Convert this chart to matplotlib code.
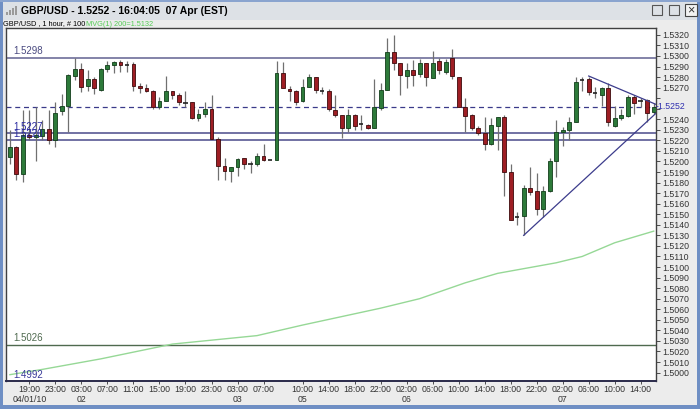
import matplotlib
matplotlib.use("Agg")
import matplotlib.pyplot as plt
import matplotlib.transforms as mtransforms
from matplotlib.patches import Rectangle
import numpy as np

plt.rcParams['font.family'] = ['Liberation Sans', 'DejaVu Sans']

# hourly GBP/USD candles, 100 bars
opens = [1.5204, 1.5214, 1.5188, 1.5225, 1.5223, 1.5224, 1.5231, 1.5220, 1.5248, 1.5253,
         1.5281, 1.5288, 1.5272, 1.5278, 1.5268, 1.5288, 1.5291, 1.5294, 1.5291, 1.5292,
         1.5272, 1.5270, 1.5267, 1.5252, 1.5257, 1.5267, 1.5263, 1.5255, 1.5256, 1.5241,
         1.5245, 1.5250, 1.5221, 1.5196, 1.5191, 1.5195, 1.5203, 1.5198, 1.5198, 1.5205,
         1.5201, 1.5201, 1.5284, 1.5269, 1.5267, 1.5257, 1.5271, 1.5280, 1.5267, 1.5267,
         1.5249, 1.5244, 1.5232, 1.5244, 1.5236, 1.5235, 1.5232, 1.5251, 1.5268, 1.5304,
         1.5293, 1.5281, 1.5287, 1.5283, 1.5293, 1.5279, 1.5295, 1.5285, 1.5298, 1.5280,
         1.5252, 1.5244, 1.5232, 1.5227, 1.5217, 1.5234, 1.5242, 1.5190, 1.5147, 1.5148,
         1.5175, 1.5172, 1.5155, 1.5172, 1.5200, 1.5228, 1.5230, 1.5237, 1.5277, 1.5278,
         1.5265, 1.5263, 1.5270, 1.5234, 1.5241, 1.5243, 1.5261, 1.5257, 1.5258, 1.5247]
highs = [1.5230, 1.5215, 1.5249, 1.5249, 1.5252, 1.5239, 1.5249, 1.5256, 1.5264, 1.5283,
         1.5298, 1.5293, 1.5287, 1.5280, 1.5289, 1.5295, 1.5295, 1.5296, 1.5295, 1.5294,
         1.5274, 1.5273, 1.5268, 1.5261, 1.5281, 1.5267, 1.5265, 1.5267, 1.5256, 1.5250,
         1.5256, 1.5263, 1.5223, 1.5203, 1.5195, 1.5203, 1.5203, 1.5200, 1.5208, 1.5217,
         1.5201, 1.5295, 1.5294, 1.5272, 1.5268, 1.5278, 1.5283, 1.5280, 1.5271, 1.5269,
         1.5263, 1.5244, 1.5250, 1.5245, 1.5244, 1.5236, 1.5278, 1.5274, 1.5317, 1.5320,
         1.5293, 1.5293, 1.5296, 1.5297, 1.5293, 1.5305, 1.5298, 1.5297, 1.5307, 1.5280,
         1.5260, 1.5245, 1.5234, 1.5242, 1.5241, 1.5242, 1.5244, 1.5198, 1.5152, 1.5178,
         1.5195, 1.5189, 1.5177, 1.5203, 1.5239, 1.5233, 1.5242, 1.5280, 1.5280, 1.5280,
         1.5271, 1.5271, 1.5274, 1.5253, 1.5250, 1.5263, 1.5263, 1.5260, 1.5259, 1.5255]
lows = [1.5198, 1.5182, 1.5181, 1.5220, 1.5200, 1.5220, 1.5217, 1.5214, 1.5244, 1.5228,
        1.5277, 1.5266, 1.5267, 1.5264, 1.5267, 1.5285, 1.5284, 1.5285, 1.5285, 1.5267,
        1.5265, 1.5266, 1.5250, 1.5250, 1.5257, 1.5259, 1.5254, 1.5252, 1.5240, 1.5238,
        1.5242, 1.5221, 1.5182, 1.5182, 1.5181, 1.5186, 1.5193, 1.5189, 1.5196, 1.5200,
        1.5201, 1.5201, 1.5270, 1.5257, 1.5254, 1.5256, 1.5271, 1.5265, 1.5264, 1.5248,
        1.5242, 1.5222, 1.5228, 1.5230, 1.5230, 1.5231, 1.5232, 1.5249, 1.5268, 1.5287,
        1.5263, 1.5270, 1.5272, 1.5280, 1.5272, 1.5279, 1.5283, 1.5283, 1.5278, 1.5252,
        1.5228, 1.5230, 1.5225, 1.5211, 1.5216, 1.5211, 1.5167, 1.5145, 1.5140, 1.5130,
        1.5168, 1.5149, 1.5147, 1.5171, 1.5185, 1.5215, 1.5220, 1.5237, 1.5267, 1.5263,
        1.5260, 1.5253, 1.5234, 1.5233, 1.5239, 1.5242, 1.5245, 1.5252, 1.5237, 1.5245]
closes = [1.5214, 1.5188, 1.5225, 1.5223, 1.5225, 1.5231, 1.5220, 1.5246, 1.5253, 1.5282,
          1.5288, 1.5271, 1.5278, 1.5270, 1.5288, 1.5291, 1.5294, 1.5291, 1.5291, 1.5272,
          1.5270, 1.5267, 1.5252, 1.5257, 1.5267, 1.5263, 1.5256, 1.5255, 1.5241, 1.5245,
          1.5250, 1.5221, 1.5196, 1.5191, 1.5195, 1.5202, 1.5198, 1.5198, 1.5205, 1.5201,
          1.5201, 1.5284, 1.5270, 1.5267, 1.5256, 1.5271, 1.5280, 1.5268, 1.5267, 1.5250,
          1.5244, 1.5232, 1.5244, 1.5234, 1.5236, 1.5232, 1.5252, 1.5268, 1.5304, 1.5293,
          1.5282, 1.5287, 1.5282, 1.5293, 1.5280, 1.5293, 1.5287, 1.5294, 1.5281, 1.5252,
          1.5243, 1.5232, 1.5227, 1.5217, 1.5235, 1.5242, 1.5190, 1.5145, 1.5147, 1.5175,
          1.5171, 1.5155, 1.5172, 1.5200, 1.5228, 1.5230, 1.5237, 1.5275, 1.5277, 1.5266,
          1.5265, 1.5270, 1.5237, 1.5241, 1.5244, 1.5261, 1.5255, 1.5257, 1.5246, 1.5252]

# 200 period moving average, read at some bars
ma_idx = [0, 5, 14, 25, 38, 45, 57, 63, 70, 75, 84, 88, 93, 99]
ma_val = [1.4998, 1.5003, 1.5013, 1.5027, 1.5035, 1.5045, 1.5061, 1.5070, 1.5085,
          1.5094, 1.5104, 1.5110, 1.5123, 1.5134]

# horizontal levels
level_top = 1.5298
level_mid = 1.5252
level_a = 1.5227
level_b = 1.5220
level_low = 1.5026
level_bottom = 1.4992

# trend lines
trend_up_x = [79, 99.4]
trend_up_y = [1.5130, 1.5246]
trend_dn_x = [89, 99.4]
trend_dn_y = [1.5281, 1.5254]

tick_pos = [3, 7, 11, 15, 19, 23, 27, 31, 35, 39, 45, 49, 53, 57, 61, 65, 69, 73, 77, 81, 85, 89, 93, 97]
tick_txt = ["19:00\n04/01/10", "23:00", "03:00\n02", "07:00", "11:00", "15:00", "19:00", "23:00",
            "03:00\n03", "07:00", "10:00\n05", "14:00", "18:00", "22:00", "02:00\n06", "06:00",
            "10:00", "14:00", "18:00", "22:00", "02:00\n07", "06:00", "10:00", "14:00"]

W, H = 700, 409
fig = plt.figure(figsize=(7, 4.09), dpi=100)
fig.patch.set_facecolor('#ececec')

def box(x, y, w, h, **kw):
    # pixel coords from top-left
    r = Rectangle((x / W, 1 - (y + h) / H), w / W, h / H, transform=fig.transFigure, **kw)
    fig.add_artist(r)

# window chrome
box(0, 0, W, 20, facecolor='#dde1e6', edgecolor='none')
box(0, 0, 3, H, facecolor='#6f8fc4', edgecolor='none')
box(W - 3, 0, 3, H, facecolor='#6f8fc4', edgecolor='none')
box(0, H - 4, W, 4, facecolor='#6f8fc4', edgecolor='none')
box(0, 0, W, 1.5, facecolor='#8aa4cf', edgecolor='none')
box(652, 5, 10, 10, facecolor='none', edgecolor='#555555', linewidth=0.8)
box(669, 5, 10, 10, facecolor='none', edgecolor='#555555', linewidth=0.8)
box(685, 4, 12, 12, facecolor='#f2f2f2', edgecolor='#444444', linewidth=0.8)
fig.text(691 / W, 1 - 10.5 / H, "×", fontsize=9, ha='center', va='center', color='#333333')
for k, hh in enumerate([3, 5, 7, 9]):
    box(6 + k * 3, 15 - hh, 2, hh, facecolor='#9a9a9a', edgecolor='none')

fig.text(21 / W, 1 - 10.5 / H, "GBP/USD - 1.5252 - 16:04:05  07 Apr (EST)",
         fontsize=7.5, fontweight='bold', va='center', ha='left', color='black')
fig.text(3 / W, 1 - 24 / H, "GBP/USD , 1 hour, # 100", fontsize=5.3, va='center', color='black')
fig.text(86 / W, 1 - 24 / H, "MVG(1) 200=1.5132", fontsize=5.3, va='center', color='#55cc55')

ax = fig.add_axes([6 / W, 1 - 381 / H, 650 / W, 353 / H])
ax.set_facecolor('white')

x = np.arange(len(opens))
o = np.array(opens)
c = np.array(closes)
ax.vlines(x, lows, highs, color='#707070', linewidth=0.9, zorder=2)
up = c > o
dn = c < o
eq = c == o
ax.bar(x[up], (c - o)[up], bottom=o[up], width=0.6, color='#2d7a3a', edgecolor='#123d1a', linewidth=0.6, zorder=3)
ax.bar(x[dn], (o - c)[dn], bottom=c[dn], width=0.6, color='#9e1e24', edgecolor='#3d0a0c', linewidth=0.6, zorder=3)
ax.hlines(c[eq], x[eq] - 0.35, x[eq] + 0.35, color='#222222', linewidth=1.2, zorder=3)

ax.plot(ma_idx, ma_val, color='#96d896', linewidth=1.0, zorder=2)

ax.axhline(level_top, color='#6e6e9a', linewidth=1.2, zorder=1)
ax.axhline(level_mid, color='#3a3a8a', linewidth=0.9, dashes=(4, 3), zorder=1)
ax.axhline(level_a, color='#4a4a8a', linewidth=1.1, zorder=1)
ax.axhline(level_b, color='#4a4a8a', linewidth=1.1, zorder=1)
ax.axhline(level_low, color='#4f6a4f', linewidth=1.0, zorder=1)

ax.plot(trend_up_x, trend_up_y, color='#3c3c8c', linewidth=0.9, zorder=4)
ax.plot(trend_dn_x, trend_dn_y, color='#3c3c8c', linewidth=0.9, zorder=4)

ax.text(0.6, level_top + 0.0002, "1.5298", fontsize=7, color='#4a4a80', va='bottom')
ax.text(0.6, level_a + 0.0001, "1.5227", fontsize=7, color='#2a2aa0', va='bottom', zorder=5)
ax.text(0.6, level_b + 0.0001, "1.5220", fontsize=7, color='#2a2aa0', va='bottom', zorder=5)
ax.text(0.6, level_low + 0.0002, "1.5026", fontsize=7, color='#4f6a4f', va='bottom')
ax.text(0.6, level_bottom + 0.0001, "1.4992", fontsize=7, color='#3a3a9a', va='bottom')

ax.set_xlim(-0.6, 99.35)
ax.set_ylim(1.4992, 1.53265)

yt = [round(1.5 + k * 0.001, 4) for k in range(33)]
ax.yaxis.tick_right()
ax.set_yticks(yt)
ax.set_yticklabels(["" if v in (1.525, 1.526) else "%.4f" % v for v in yt])
ax.tick_params(axis='y', labelsize=6.3, length=3, width=0.6, pad=1.5, colors='#333333')
tr = mtransforms.blended_transform_factory(ax.transAxes, ax.transData)
ax.text(1.0, level_mid, "-1.5252", transform=tr, fontsize=6.3, color='#3030b0', va='center', ha='left')

ax.set_xticks(tick_pos)
ax.set_xticklabels(tick_txt)
ax.tick_params(axis='x', labelsize=6.3, length=2, width=0.6, pad=1, colors='#333333')
for lab in ax.get_xticklabels():
    lab.set_linespacing(1.15)

for s in ax.spines.values():
    s.set_color('#404040')
    s.set_linewidth(1.0)
ax.spines['bottom'].set_color('#2a2a4a')
ax.spines['bottom'].set_linewidth(1.4)

fig.savefig("out.png", dpi=100, facecolor=fig.get_facecolor())
